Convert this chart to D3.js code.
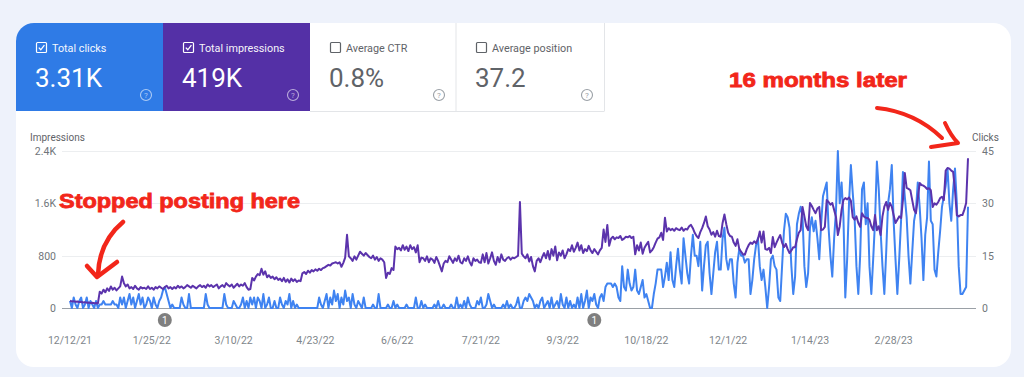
<!DOCTYPE html>
<html>
<head>
<meta charset="utf-8">
<script src="https://cdn.jsdelivr.net/npm/d3@7"></script>
<style>
  html, body { margin: 0; padding: 0; background: #eef2fb; }
  svg { display: block; font-family: Roboto, "Noto Sans", sans-serif; }
</style>
</head>
<body>
<svg id="chart" width="1024" height="377"></svg>
<script>
// daily values from 12/12/21
const startDate = "12/12/21";
const endDate = "4/9/23";

const clicks = [
  2,0,3,1,0,2,3, 0,1,3,0,2,1,0, 2,0,1,1,2,1,1, 1,1,2,1,1,0,3,
  1,3,0,2,4,1,3, 0,2,4,1,3,0,1, 3,2,0,3,1,0,2, 3,5,6,4,2,0,1,
  0,0,0,0,3,1,0, 0,4,0,0,0,0,0, 0,0,0,4,1,0,0, 0,0,0,0,0,0,4,
  1,0,0,0,2,1,0, 0,1,3,0,2,0,3, 1,3,0,3,2,0,4, 0,1,3,0,0,2,0,
  0,3,1,0,2,1,4, 0,2,0,1,0,0,0, 0,0,0,0,0,0,0, 0,3,1,0,2,4,0,
  3,1,5,2,4,0,3, 1,5,2,3,0,4,1, 0,2,1,0,3,0,0, 0,0,1,0,0,4,0,
  0,0,0,1,0,0,2, 0,1,0,0,0,0,1, 0,0,0,0,3,0,0, 2,0,1,0,0,0,0,
  1,0,2,0,0,1,0, 0,0,1,0,0,3,0, 1,0,2,0,3,1,0, 0,0,2,1,3,0,0,
  1,4,2,0,1,0,0, 0,0,1,0,2,0,1, 0,0,1,3,0,0,2, 3,2,4,3,2,0,1,
  0,2,3,0,1,2,0, 3,0,1,2,0,4,1, 0,3,0,2,0,1,0, 3,0,4,0,2,5,0,
  3,2,4,1,0,3,4,
  2,6,7,7,7,6,7, 6,3,2,12,6,5,11, 7,5,6,11,5,4,6, 8,3,4,2,0,0,4,
  7,11,11,11,6,9,13, 8,16,8,6,12,17,11, 7,20,15,10,7,15,21, 15,15,12,19,5,12,18,
  19,10,4,10,16,19,11, 11,20,23,14,11,14,14, 7,3,13,17,15,15,13, 14,14,4,8,14,18,20,
  12,8,11,6,
  0,6,14,15,12,11,3, 2,12,22,27,26,23,12, 4,9,24,27,29,26,12, 6,10,23,26,22,25,20,
  14,24,32,34,36,23,15, 9,20,28,45,30,36,26, 3,14,30,41,33,26,12, 4,15,34,36,24,30,12,
  4,14,25,42,34,22,12, 4,16,30,34,41,25,14, 4,14,25,39,32,26,15, 7,16,25,28,36,29,20,
  8,21,26,42,25,24,11, 9,16,22,29,32,35,40, 30,25,34,40,30,12,4, 4,5,6,29
];

const impressions = [
  110,100,105,95,100,90,95,85,90,82,85,78,80,72,75,70,
  250,220,280,240,300,260,330,280,310,270,300,330,
  480,
  380,330,360,300,320,290,340,300,280,320,300,310,290,
  330,290,310,280,320,300,330, 310,290,320,340,300,320,290,
  320,300,340,310,330,300,320, 350,330,310,340,320,300,330,
  350,320,340,310,360,330,350, 320,340,360,300,330,350,320,
  380,350,330,360,310,340,370, 330,360,340,380,320,
  280,290,460,420,480,520,500,600,510,560,470,500,460,480,440,470,
  430,450,410,460,400,440,390,450,410,440,400,420,410,530,550,520,
  570,540,580,560,590,570,600,580,610,620,640,660,650,680,690,700,
  680,700,630,690,770,1120,790,760,720,790,740,800,860,830,800,840,
  810,780,760,800,740,780,720,760,740,700,460,540,520,610,580,940,
  900,920,880,960,890,940,870,960,900,930,850,960,700,770,760,720,
  790,700,760,740,690,780,720,640,560,680,720,700,790,740,690,760,
  720,800,700,680,760,720,790,700,650,760,720,740,700,690,820,700,
  840,680,760,850,720,660,780,700,820,740,720,760,780,740,770,760,
  780,800,1620,830,790,760,820,710,780,640,560,720,760,700,780,840,
  760,870,740,900,800,940,730,850,800,880,760,820,900,870,960,860,
  920,1000,880,960,840,900,870,950,880,840,900,860,820,880,920,1200,
  1010,1270,950,1060,1090,1050,1080,1070,1100,1040,1060,1090,1080,1100,1070,1090,
  820,960,880,1000,830,920,970,1010,850,880,930,1000,1060,1080,1150,1040,
  1380,1170,1220,1190,1210,1180,1220,1200,1190,1230,1180,1210,1200,1250,1270,1220,
  1150,1100,1070,1160,1220,1300,1400,1250,1200,1120,1160,1090,1180,1100,1090,1300,
  1430,1280,1150,1100,1090,1000,950,1050,900,860,820,815,900,960,1000,980,
  1020,990,
  1050,1170,1000,1170,900,890,920,840,1085,930,1000,1060,1115,1000,930,980,
  900,840,880,930,930,1050,1150,1190,1545,1400,1250,1190,1605,1560,1500,1450,
  1520,1545,1190,1200,1240,1650,1620,1580,1605,1500,1390,1115,1250,1500,1650,1680,
  1660,1690,1640,1390,1350,1400,1300,1240,1450,1400,1380,1375,1350,1250,1190,1420,
  1190,1250,1115,1400,1550,1620,1500,1605,1550,1420,1300,1350,1400,1375,1650,2065,
  1835,1820,1800,1650,1500,1450,1680,1910,1880,1870,1850,1820,1830,1800,1545,1600,
  1580,1620,1680,1700,1650,2100,2140,2130,2100,2080,1800,1420,1400,1420,1420,1500,
  1605,2290
];

const xTickLabels = ["12/12/21","1/25/22","3/10/22","4/23/22","6/6/22","7/21/22","9/3/22","10/18/22","12/1/22","1/14/23","2/28/23"];
const impTicks = [0, 800, 1600, 2400];
const impTickLabels = ["0", "800", "1.6K", "2.4K"];
const clickTicks = [0, 15, 30, 45];
const eventDates = ["2/1/22", "9/20/22"];

const tileLabels = ["Total clicks", "Total impressions", "Average CTR", "Average position"];
const tileValues = ["3.31K", "419K", "0.8%", "37.2"];
const tileChecked = [true, true, false, false];

const noteLeft = "Stopped posting here";
const noteRight = "16 months later";

const parse = d3.timeParse("%m/%d/%y");
const t0 = parse(startDate);

const svg = d3.select("#chart");

// card
svg.append("rect")
  .attr("x", 16).attr("y", 23).attr("width", 995).attr("height", 344)
  .attr("rx", 18).attr("fill", "#fff");

// tiles
const tileX = [16, 163, 310, 456, 604];
const tileFill = ["#2f7be6", "#5430a6", "#fff", "#fff"];
tileLabels.forEach((lab, i) => {
  const x0 = tileX[i], x1 = tileX[i + 1];
  if (i === 0) {
    svg.append("path")
      .attr("d", `M${x0},111 L${x0},41 A18,18 0 0 1 ${x0 + 18},23 L${x1},23 L${x1},111 Z`)
      .attr("fill", tileFill[i]);
  } else {
    svg.append("rect").attr("x", x0).attr("y", 23).attr("width", x1 - x0).attr("height", 88)
      .attr("fill", tileFill[i]);
  }
  const col = i < 2 ? "#fff" : "#5f6368";
  const g = svg.append("g").attr("transform", `translate(${x0},0)`);
  g.append("rect").attr("x", 20.5).attr("y", 42.5).attr("width", 10).attr("height", 10)
    .attr("rx", 1).attr("fill", "none").attr("stroke", col).attr("stroke-width", 1.2);
  if (tileChecked[i]) {
    g.append("path").attr("d", "M22.8,47.6 L24.8,49.8 L28.4,45.2")
      .attr("fill", "none").attr("stroke", col).attr("stroke-width", 1.3);
  }
  g.append("text").attr("x", 36).attr("y", 52).attr("font-size", 10.8)
    .attr("fill", col).attr("opacity", i < 2 ? 0.95 : 1).text(lab);
  g.append("text").attr("x", 19).attr("y", 87).attr("font-size", 26)
    .attr("fill", col).text(tileValues[i]);
  const cx = (x1 - x0) - 17;
  g.append("circle").attr("cx", cx).attr("cy", 95).attr("r", 5.5)
    .attr("fill", "none").attr("stroke", i < 2 ? "rgba(255,255,255,0.6)" : "#9aa0a6").attr("stroke-width", 1.1);
  g.append("text").attr("x", cx).attr("y", 98).attr("text-anchor", "middle")
    .attr("font-size", 8).attr("fill", i < 2 ? "rgba(255,255,255,0.6)" : "#9aa0a6").text("?");
});
// tile separators
svg.append("line").attr("x1", 456).attr("x2", 456).attr("y1", 23).attr("y2", 111).attr("stroke", "#e3e5e8");
svg.append("line").attr("x1", 604.5).attr("x2", 604.5).attr("y1", 23).attr("y2", 111).attr("stroke", "#e3e5e8");
svg.append("line").attr("x1", 310).attr("x2", 604.5).attr("y1", 111.5).attr("y2", 111.5).attr("stroke", "#e3e5e8");

// scales
const x = d3.scaleTime().domain([t0, parse(endDate)]).range([70, 968]);
const yImp = d3.scaleLinear().domain([0, 2400]).range([308, 151]);
const yClk = d3.scaleLinear().domain([0, 45]).range([308, 151]);
const dayOf = i => d3.timeDay.offset(t0, i);

// grid
svg.append("g").selectAll("line").data(impTicks).join("line")
  .attr("x1", 62).attr("x2", 976)
  .attr("y1", d => Math.round(yImp(d)) + 0.5).attr("y2", d => Math.round(yImp(d)) + 0.5)
  .attr("stroke", d => d === 0 ? "#9aa0a6" : "#eceef0").attr("stroke-width", 1);

svg.append("g").selectAll("text").data(impTicks).join("text")
  .attr("x", 56).attr("y", d => yImp(d) + 4).attr("text-anchor", "end")
  .attr("font-size", 10.5).attr("fill", "#70757a")
  .text((d, i) => impTickLabels[i]);

svg.append("g").selectAll("text").data(clickTicks).join("text")
  .attr("x", 982).attr("y", d => yClk(d) + 4).attr("text-anchor", "start")
  .attr("font-size", 10.5).attr("fill", "#70757a")
  .text(d => d);

svg.append("text").attr("x", 30).attr("y", 141).attr("font-size", 10).attr("fill", "#5f6368").text("Impressions");
svg.append("text").attr("x", 972).attr("y", 141).attr("font-size", 10).attr("fill", "#5f6368").text("Clicks");

svg.append("g").selectAll("text").data(xTickLabels).join("text")
  .attr("x", d => x(parse(d))).attr("y", 344).attr("text-anchor", "middle")
  .attr("font-size", 10.5).attr("fill", "#80868b")
  .text(d => d);

// lines
const clickLine = d3.line().x((d, i) => x(dayOf(i))).y(d => yClk(d));
const impLine = d3.line().x((d, i) => x(dayOf(i))).y(d => yImp(d));

svg.append("path").datum(clicks).attr("d", clickLine)
  .attr("fill", "none").attr("stroke", "#3f83f1").attr("stroke-width", 2).attr("stroke-linejoin", "round");
svg.append("path").datum(impressions).attr("d", impLine)
  .attr("fill", "none").attr("stroke", "#5b33ac").attr("stroke-width", 2).attr("stroke-linejoin", "round");

// event markers
const ev = svg.append("g").selectAll("g").data(eventDates).join("g")
  .attr("transform", d => `translate(${x(parse(d))},320)`);
ev.append("circle").attr("r", 7).attr("fill", "#7f7f7f");
ev.append("text").attr("y", 3.5).attr("text-anchor", "middle").attr("font-size", 10)
  .attr("fill", "#fff").text("1");

// annotations
const red = "#f2261a";
svg.append("text").attr("x", 59).attr("y", 208).attr("font-size", 20).attr("font-weight", 900)
  .attr("font-family", "'Liberation Sans', Arial, sans-serif")
  .attr("textLength", 241).attr("lengthAdjust", "spacingAndGlyphs")
  .attr("fill", red).attr("stroke", red).attr("stroke-width", 0.8).text(noteLeft);
svg.append("text").attr("x", 729).attr("y", 87).attr("font-size", 20).attr("font-weight", 900)
  .attr("font-family", "'Liberation Sans', Arial, sans-serif")
  .attr("textLength", 178).attr("lengthAdjust", "spacingAndGlyphs")
  .attr("fill", red).attr("stroke", red).attr("stroke-width", 0.8).text(noteRight);

svg.append("path").attr("d", "M123,222 Q99,242 98,275")
  .attr("fill", "none").attr("stroke", red).attr("stroke-width", 4.5).attr("stroke-linecap", "round");
svg.append("path").attr("d", "M87,266 L97,277 L117,262")
  .attr("fill", "none").attr("stroke", red).attr("stroke-width", 4.5)
  .attr("stroke-linecap", "round").attr("stroke-linejoin", "round");

svg.append("path").attr("d", "M877,108 Q915,112 942,138")
  .attr("fill", "none").attr("stroke", red).attr("stroke-width", 4).attr("stroke-linecap", "round");
svg.append("path").attr("d", "M945,123 Q951,136 958,143 L931,147")
  .attr("fill", "none").attr("stroke", red).attr("stroke-width", 4)
  .attr("stroke-linecap", "round").attr("stroke-linejoin", "round");
</script>
</body>
</html>
